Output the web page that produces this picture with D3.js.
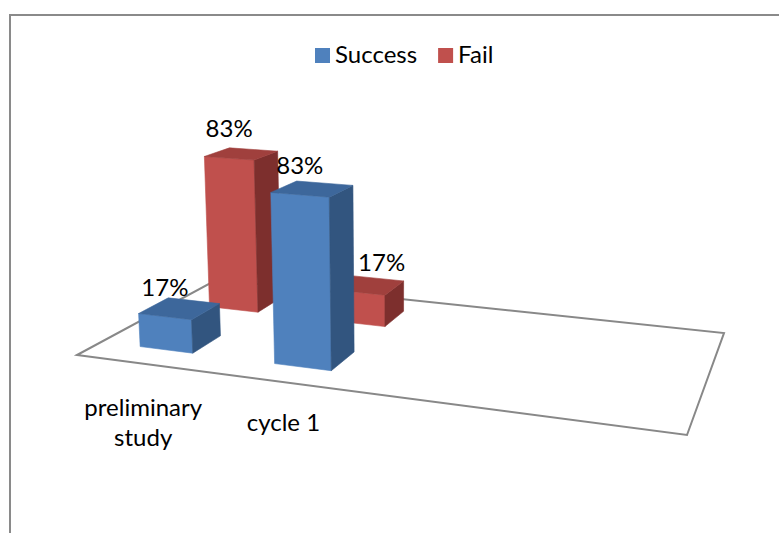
<!DOCTYPE html>
<html>
<head>
<meta charset="utf-8">
<script src="https://cdn.jsdelivr.net/npm/d3@7/dist/d3.min.js"></script>
<style>
  html, body { margin: 0; padding: 0; background: #fff; }
  svg { display: block; }
  text { font-family: Lato, "Open Sans", sans-serif; fill: #000; }
</style>
</head>
<body>
<svg id="chart" width="779" height="533"></svg>
<script>
// ---- data ----
const categories = ["preliminary study", "cycle 1"];
const seriesNames = ["Success", "Fail"];
const successValues = [17, 83];
const failValues = [83, 17];
const seriesColors = ["#4F81BD", "#C0504D"];
const topColors = ["#3D679B", "#A0403D"];
const sideColors = ["#32557F", "#7D2F2D"];

// ---- layout ----
const W = 779, H = 533;
const categorySlots = 4;            // floor has room for 4 category slots
const floorCorners = [[77, 355], [687, 435], [724, 333], [217, 279.5]]; // (0,0),(1,0),(1,1),(0,1)
const verticalVP = [392, 5660];
const lambda = -0.0371;

const svg = d3.select("#chart");

// outer frame
svg.append("path")
  .attr("d", "M10,545 L10,15 L790,15")
  .attr("fill", "none").attr("stroke", "#8a8a8a").attr("stroke-width", 2);

function squareToQuad(p) {
  const [x0, y0] = p[0], [x1, y1] = p[1], [x2, y2] = p[2], [x3, y3] = p[3];
  const dx1 = x1 - x2, dx2 = x3 - x2, dx3 = x0 - x1 + x2 - x3;
  const dy1 = y1 - y2, dy2 = y3 - y2, dy3 = y0 - y1 + y2 - y3;
  const den = dx1 * dy2 - dx2 * dy1;
  const g = (dx3 * dy2 - dx2 * dy3) / den, h = (dx1 * dy3 - dx3 * dy1) / den;
  return { a: x1 - x0 + g * x1, b: x3 - x0 + h * x3, c: x0,
           d: y1 - y0 + g * y1, e: y3 - y0 + h * y3, f: y0, g, h };
}
const M = squareToQuad(floorCorners);
function project(u, v, hgt) {
  const X = M.a * u + M.b * v + M.c + hgt * lambda * verticalVP[0];
  const Y = M.d * u + M.e * v + M.f + hgt * lambda * verticalVP[1];
  const Wd = M.g * u + M.h * v + 1 + hgt * lambda;
  return [X / Wd, Y / Wd];
}

// scales
const uScale = d3.scaleBand().domain(d3.range(categorySlots)).range([0, 1]).padding(0);
const vScale = d3.scaleBand().domain(seriesNames).range([0, 1]).padding(0);
const hScale = d3.scaleLinear().domain([0, 100]).range([0, 1]);

const seriesValues = [successValues, failValues];
const bars = [];
seriesNames.forEach((s, si) => {
  categories.forEach((c, ci) => {
    const ub = uScale.bandwidth(), vb = vScale.bandwidth();
    const u0 = uScale(ci) + ub * 0.3, u1 = u0 + ub * 0.4;
    const v0 = vScale(s) + vb * 0.3, v1 = v0 + vb * 0.4;
    const h = hScale(seriesValues[si][ci]);
    bars.push({ si, ci, u0, u1, v0, v1, h, value: seriesValues[si][ci] });
  });
});

// floor
const floorPts = [[0, 0], [1, 0], [1, 1], [0, 1]].map(([u, v]) => project(u, v, 0));
svg.append("polygon")
  .attr("points", floorPts.map(p => p.join(",")).join(" "))
  .attr("fill", "#fff").attr("stroke", "#888").attr("stroke-width", 2)
  .attr("stroke-linejoin", "miter");

// bars, back row first
const order = bars.slice().sort((a, b) => (b.si - a.si) || (a.ci - b.ci));
const gBars = svg.append("g");
order.forEach(b => {
  const P = (u, v, h) => project(u, v, h);
  const front = [P(b.u0, b.v0, 0), P(b.u1, b.v0, 0), P(b.u1, b.v0, b.h), P(b.u0, b.v0, b.h)];
  const side = [P(b.u1, b.v0, 0), P(b.u1, b.v1, 0), P(b.u1, b.v1, b.h), P(b.u1, b.v0, b.h)];
  const top = [P(b.u0, b.v0, b.h), P(b.u1, b.v0, b.h), P(b.u1, b.v1, b.h), P(b.u0, b.v1, b.h)];
  b.pts = front.concat(side, top);
  [[front, seriesColors[b.si]], [side, sideColors[b.si]], [top, topColors[b.si]]].forEach(([pts, col]) => {
    gBars.append("polygon")
      .attr("points", pts.map(p => p.join(",")).join(" "))
      .attr("fill", col).attr("stroke", col).attr("stroke-width", 0.6)
      .attr("stroke-linejoin", "round");
  });
});

// value labels
const gLab = svg.append("g");
order.forEach(b => {
  const [x, y] = project((b.u0 + b.u1) / 2, b.v0, b.h);
  const t = gLab.append("text").attr("text-anchor", "middle")
    .attr("font-size", 24).attr("x", x).attr("y", y - 21).text(b.value + "%");
  const bb = t.node().getBBox();
  // avoid overlapping bars that stand in front
  bars.filter(o => o.si < b.si).forEach(o => {
    const xs = o.pts.map(p => p[0]), ys = o.pts.map(p => p[1]);
    const minX = d3.min(xs), maxX = d3.max(xs), minY = d3.min(ys), maxY = d3.max(ys);
    if (bb.x < maxX && bb.x + bb.width > minX && bb.y < maxY && bb.y + bb.height > minY) {
      t.attr("x", maxX + 4 + bb.width / 2);
    }
  });
});

// category labels
const labelCenterY = 423, lineH = 30, maxLabelW = 130;
categories.forEach((c, ci) => {
  const [x] = project(uScale(ci) + uScale.bandwidth() / 2, 0, 0);
  const words = c.split(" ");
  const lines = [];
  const probe = svg.append("text").attr("font-size", 24);
  let cur = "";
  words.forEach(w => {
    const test = cur ? cur + " " + w : w;
    probe.text(test);
    if (cur && probe.node().getComputedTextLength() > maxLabelW) { lines.push(cur); cur = w; }
    else cur = test;
  });
  lines.push(cur);
  probe.remove();
  lines.forEach((ln, i) => {
    svg.append("text").attr("text-anchor", "middle").attr("font-size", 24)
      .attr("x", x).attr("y", labelCenterY + (i - (lines.length - 1) / 2) * lineH + 8)
      .text(ln);
  });
});

// legend
const legend = svg.append("g");
let lx = 315;
seriesNames.forEach((s, si) => {
  legend.append("rect").attr("x", lx).attr("y", 48).attr("width", 15).attr("height", 15)
    .attr("fill", seriesColors[si]);
  const t = legend.append("text").attr("x", lx + 20).attr("y", 63).attr("font-size", 24).text(s);
  lx += 20 + t.node().getComputedTextLength() + 21;
});
</script>
</body>
</html>
